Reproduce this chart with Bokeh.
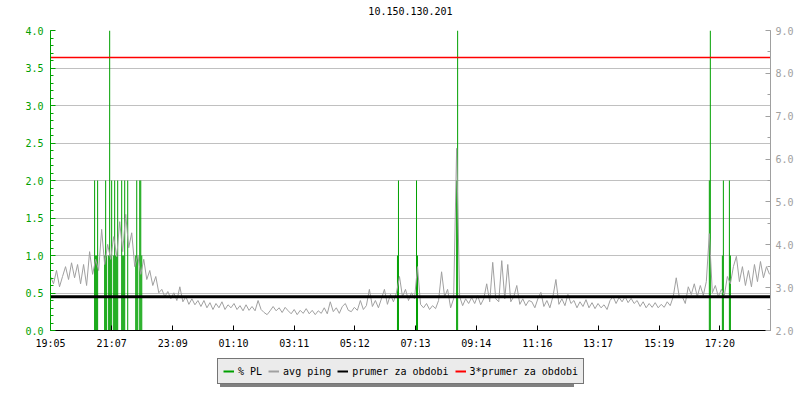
from bokeh.plotting import figure
from bokeh.layouts import column
from bokeh.models import (Range1d, LinearAxis, FixedTicker, SingleIntervalTicker,
                          Legend, LegendItem, NumeralTickFormatter, Label)
from bokeh.embed import file_html
from bokeh.resources import INLINE

TITLE = "10.150.130.201"
SPAN_MIN = 1436          # length of the period, minutes from 19:05
STEP_MIN = 6             # sampling step of the avg ping series

tick_minutes = [0, 122, 244, 365, 486, 607, 728, 849, 971, 1092, 1214, 1335]
tick_labels = ["19:05", "21:07", "23:09", "01:10", "03:11", "05:12",
               "07:13", "09:14", "11:16", "13:17", "15:19", "17:20"]

# packet loss (%) samples
pl_minutes = [88, 90, 92, 94, 108, 110, 112, 116, 118, 120, 122,
              126, 128, 130, 132, 134, 142, 144, 146, 148, 154,
              170, 172, 174, 178, 180, 182,
              692, 694, 730, 732, 810, 812,
              1314, 1316, 1340, 1342, 1354, 1356]
pl_percent = [2, 1, 1, 2, 1, 2, 1, 1, 6, 1, 2,
              1, 2, 1, 1, 2, 2, 1, 1, 2, 2,
              1, 2, 1, 2, 2, 1,
              1, 2, 2, 1, 2, 6,
              2, 6, 1, 2, 2, 1]

# avg ping (ms), one value every STEP_MIN minutes
ping_ms = [
    3.26, 3.09, 3.40, 3.02, 3.26, 3.49, 3.19, 3.58, 3.23, 3.54,
    3.09, 3.54, 3.05, 3.84, 3.31, 3.66, 3.40, 4.36, 3.54, 4.01,
    3.66, 4.19, 3.72, 4.54, 3.84, 4.71, 3.93, 4.28, 3.49, 3.75,
    3.31, 3.66, 3.19, 3.40, 3.05, 3.26, 2.88, 2.96, 2.79, 2.91,
    2.74, 2.88, 2.70, 3.02, 2.67, 2.79, 2.61, 2.74, 2.60, 2.70,
    2.56, 2.70, 2.53, 2.65, 2.49, 2.63, 2.53, 2.67, 2.49, 2.60,
    2.53, 2.63, 2.49, 2.58, 2.46, 2.60, 2.47, 2.56, 2.46, 2.70,
    2.49, 2.42, 2.37, 2.46, 2.56, 2.46, 2.53, 2.42, 2.54, 2.46,
    2.39, 2.49, 2.37, 2.47, 2.40, 2.51, 2.39, 2.47, 2.37, 2.46,
    2.40, 2.53, 2.39, 2.67, 2.44, 2.53, 2.40, 2.56, 2.63, 2.47,
    2.44, 2.54, 2.47, 2.70, 2.49, 2.58, 2.96, 2.56, 2.70, 2.53,
    2.74, 2.96, 2.61, 2.84, 2.67, 2.88, 3.26, 2.79, 2.96, 2.70,
    2.88, 2.74, 3.49, 2.61, 2.53, 2.63, 2.49, 2.58, 2.51, 2.70,
    3.37, 2.79, 2.96, 2.53, 2.74, 6.25, 2.79, 2.58, 2.74, 2.63,
    2.77, 2.63, 2.81, 2.60, 2.74, 3.09, 2.67, 3.59, 2.74, 2.67,
    3.63, 2.74, 3.54, 2.67, 2.79, 3.05, 2.61, 2.74, 2.58, 2.70,
    2.67, 2.53, 2.74, 2.89, 2.56, 2.70, 2.53, 2.79, 3.19, 2.61,
    2.74, 2.58, 2.84, 2.63, 2.70, 2.53, 2.67, 2.56, 2.72, 2.53,
    2.65, 2.51, 2.63, 2.53, 2.60, 2.49, 2.70, 2.79, 2.63, 2.77,
    2.67, 2.79, 2.65, 2.75, 2.63, 2.70, 2.56, 2.67, 2.53, 2.63,
    2.54, 2.65, 2.53, 2.61, 2.54, 2.67, 2.58, 2.79, 3.23, 2.79,
    2.79, 2.63, 3.02, 2.84, 3.09, 2.79, 3.05, 2.82, 3.14, 4.26,
    2.88, 3.05, 2.79, 2.96, 2.82, 3.26, 3.09, 3.49, 3.73, 3.14,
    3.49, 3.05, 3.40, 3.02, 3.54, 3.14, 3.61, 3.23, 3.49, 3.31,
]
ping_minutes = [i * STEP_MIN for i in range(len(ping_ms))]

prumer = 2.79
prumer3 = 3 * prumer

legend_labels = ["% PL", "avg ping", "prumer za obdobi", "3*prumer za obdobi"]

GREEN = "#00a000"
GRAY = "#a0a0a0"
RED = "#ff0000"
FONT = "DejaVu Sans Mono"


def strip(height):
    f = figure(width=800, height=height, min_border=0, output_backend="svg", toolbar_location=None,
               x_axis_location=None, y_axis_location=None,
               x_range=Range1d(0, 1), y_range=Range1d(0, 1),
               background_fill_color="white", border_fill_color="white")
    f.outline_line_color = None
    f.grid.visible = False
    return f


# ---- title strip ----
top = strip(20)
top.add_layout(Label(x=0.5, y=0.5, text=TITLE, text_align="center", text_baseline="middle",
                     text_font=FONT, text_font_size="10px", text_color="black"))

# ---- main chart ----
p = figure(frame_width=720, frame_height=300,
           min_border_left=50, min_border_right=30, min_border_top=10, min_border_bottom=20,
           x_range=Range1d(0, SPAN_MIN), y_range=Range1d(0, 4),
           output_backend="svg", toolbar_location=None,
           background_fill_color="white", border_fill_color="white")
p.outline_line_color = None

p.extra_y_ranges = {"ping": Range1d(2, 9)}

# left axis
ya = p.yaxis[0]
ya.ticker = SingleIntervalTicker(interval=0.5, num_minor_ticks=5)
ya.formatter = NumeralTickFormatter(format="0.0")
for attr in ["axis_line_color", "major_tick_line_color", "minor_tick_line_color", "major_label_text_color"]:
    setattr(ya, attr, GREEN)
ya.major_tick_in = 5
ya.major_tick_out = 0
ya.minor_tick_in = 3
ya.minor_tick_out = 0
ya.major_label_standoff = 7
ya.major_label_text_font = FONT
ya.major_label_text_font_size = "10px"

# right axis
ra = LinearAxis(y_range_name="ping",
                ticker=SingleIntervalTicker(interval=1, num_minor_ticks=2),
                formatter=NumeralTickFormatter(format="0.0"))
for attr in ["axis_line_color", "major_tick_line_color", "minor_tick_line_color", "major_label_text_color"]:
    setattr(ra, attr, GRAY)
ra.major_tick_in = 5
ra.major_tick_out = 0
ra.minor_tick_in = 3
ra.minor_tick_out = 0
ra.major_label_standoff = 5
ra.major_label_text_font = FONT
ra.major_label_text_font_size = "10px"
p.add_layout(ra, "right")

# bottom axis
xa = p.xaxis[0]
xa.ticker = FixedTicker(ticks=tick_minutes, minor_ticks=[])
xa.major_label_overrides = dict(zip(tick_minutes, tick_labels))
xa.axis_line_color = "black"
xa.major_tick_line_color = "black"
xa.major_tick_in = 5
xa.major_tick_out = 0
xa.major_label_standoff = 7
xa.major_label_text_font = FONT
xa.major_label_text_font_size = "10px"
xa.major_label_text_color = "black"

p.xgrid.visible = False
p.ygrid.grid_line_color = "#c0c0c0"

# data
p.vbar(x=pl_minutes, top=pl_percent, bottom=0, width=2, fill_color=GREEN, line_color=None)
p.line(x=ping_minutes, y=ping_ms, y_range_name="ping", line_color=GRAY, line_width=1)
p.segment(x0=[0], x1=[SPAN_MIN], y0=[prumer], y1=[prumer], y_range_name="ping",
          line_color="black", line_width=3)
p.segment(x0=[0], x1=[SPAN_MIN], y0=[prumer3], y1=[prumer3], y_range_name="ping",
          line_color=RED, line_width=1.5)

# ---- legend strip ----
leg = strip(50)
nan = float("nan")
colors = [GREEN, GRAY, "black", RED]
dummies = [leg.line(x=[0], y=[nan], line_color=c, line_width=2) for c in colors]
shadow_dummy = leg.line(x=[0], y=[nan], line_alpha=0)

common = dict(orientation="horizontal", glyph_width=11, glyph_height=14, label_height=14,
              label_standoff=4, spacing=6, padding=5, margin=0,
              label_text_font=FONT, label_text_font_size="10px", background_fill_alpha=1)

shadow = Legend(items=[LegendItem(label="", renderers=[shadow_dummy])], location=(170, 14),
                label_width=339, background_fill_color="#808080", border_line_color=None, **common)
main_legend = Legend(items=[LegendItem(label=l, renderers=[r]) for l, r in zip(legend_labels, dummies)],
                     location=(167, 17), label_text_color="black",
                     background_fill_color="#ebebeb", border_line_color="black", border_line_width=1,
                     **common)
leg.add_layout(shadow, "center")
leg.add_layout(main_legend, "center")

open("out.html", "w").write(file_html(column(top, p, leg, spacing=0), INLINE))
